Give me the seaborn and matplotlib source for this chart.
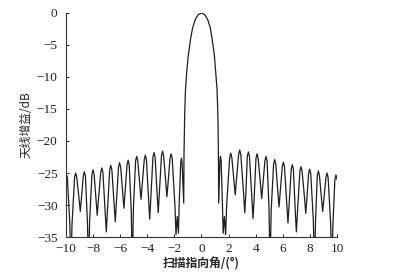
import matplotlib
matplotlib.use("Agg")
import matplotlib.pyplot as plt
import seaborn as sns
import pandas as pd

# 扫描指向角 (°) 与天线增益 (dB)，从原图逐瓣读取；-40 表示零点落到坐标下限以下
angle_deg = [
    -10.00, -9.89, -9.71, -9.63,
    -9.55, -9.36, -9.28, -9.20, -9.02, -8.94,
    -8.86, -8.72, -8.64, -8.56, -8.41, -8.33,
    -8.25, -8.08, -8.00, -7.92, -7.77, -7.69,
    -7.61, -7.43, -7.35, -7.27, -7.10, -7.02,
    -6.94, -6.77, -6.69, -6.61, -6.44, -6.36,
    -6.28, -6.12, -6.04, -5.96, -5.80, -5.72,
    -5.64, -5.49, -5.41, -5.33, -5.18, -5.10,
    -5.02, -4.86, -4.78, -4.70, -4.54, -4.46,
    -4.38, -4.22, -4.14, -4.06, -3.90, -3.82,
    -3.74, -3.58, -3.50, -3.42, -3.27, -3.19,
    -3.11, -2.95, -2.87, -2.79, -2.63, -2.55,
    -2.47, -2.32, -2.24, -2.16, -1.96, -1.88, -1.79, -1.70,
    -1.64, -1.53, -1.48, -1.43, -1.36, -1.31,
    -1.29, -1.24, -1.18, -1.09, -0.97, -0.80, -0.65, -0.45, -0.25,
    0.00,
    0.25, 0.45, 0.65, 0.78, 0.95, 1.05, 1.15, 1.21, 1.25, 1.27,
    1.31, 1.36, 1.40, 1.45, 1.54, 1.60, 1.69, 1.78,
    1.86, 2.08, 2.16, 2.24, 2.41, 2.49,
    2.57, 2.74, 2.82, 2.90, 3.11, 3.19,
    3.27, 3.38, 3.46, 3.54, 3.72, 3.80,
    3.88, 4.02, 4.10, 4.18, 4.36, 4.44,
    4.52, 4.68, 4.76, 4.84, 4.98, 5.06,
    5.14, 5.32, 5.40, 5.48, 5.64, 5.72,
    5.80, 5.96, 6.04, 6.12, 6.30, 6.38,
    6.46, 6.62, 6.70, 6.78, 6.92, 7.00,
    7.08, 7.26, 7.34, 7.42, 7.61, 7.69,
    7.77, 7.90, 7.98, 8.06, 8.25, 8.33,
    8.41, 8.54, 8.62, 8.70, 8.86, 8.94,
    9.02, 9.18, 9.26, 9.34, 9.53, 9.61,
    9.69, 9.84, 9.92, 10.00,
]

gain_db = [
    -25.0, -25.7, -33.0, -40.0,
    -33.0, -25.7, -25.0, -25.7, -29.2, -31.0,
    -29.1, -25.5, -24.8, -25.5, -32.8, -40.0,
    -32.5, -25.2, -24.5, -25.2, -29.5, -31.6,
    -29.4, -24.9, -24.2, -24.9, -31.2, -34.2,
    -31.1, -24.5, -23.8, -24.5, -30.0, -32.6,
    -29.8, -24.1, -23.4, -24.1, -28.4, -30.5,
    -28.2, -23.7, -23.0, -23.7, -31.0, -40.0,
    -30.4, -23.1, -22.4, -23.1, -27.1, -29.1,
    -27.0, -22.9, -22.2, -22.9, -29.2, -32.2,
    -29.1, -22.5, -21.8, -22.5, -28.4, -31.2,
    -28.3, -22.3, -21.6, -22.3, -26.6, -28.7,
    -26.7, -22.7, -22.0, -22.7, -30.0, -34.6, -31.8, -34.4,
    -29.5, -23.3, -22.7, -23.4, -27.0, -29.7,
    -22.2, -16.0, -12.0, -9.2, -6.6, -4.0, -2.3, -1.0, -0.3,
    0.0,
    -0.3, -1.0, -2.3, -4.0, -6.6, -9.2, -12.0, -16.0, -22.2, -29.7,
    -27.0, -23.1, -22.4, -23.1, -29.5, -34.4, -31.8, -34.6,
    -29.9, -22.6, -21.9, -22.6, -26.5, -28.4,
    -26.3, -22.1, -21.4, -22.1, -28.3, -31.2,
    -28.4, -22.4, -21.7, -22.4, -29.0, -32.1,
    -29.1, -22.7, -22.0, -22.7, -26.9, -29.0,
    -27.0, -23.1, -22.4, -23.1, -30.4, -40.0,
    -30.9, -23.6, -22.9, -23.6, -28.1, -30.3,
    -28.2, -24.0, -23.3, -24.0, -30.0, -32.8,
    -30.1, -24.4, -23.7, -24.4, -31.1, -34.2,
    -31.1, -24.7, -24.0, -24.7, -29.1, -31.3,
    -29.2, -25.1, -24.4, -25.1, -32.4, -40.0,
    -32.7, -25.4, -24.7, -25.4, -29.1, -31.0,
    -29.2, -25.7, -25.0, -25.7, -33.0, -40.0,
    -33.3, -26.0, -25.3, -26.0,
]

x_ticks = [-10, -8, -6, -4, -2, 0, 2, 4, 6, 8, 10]
y_ticks = [0, -5, -10, -15, -20, -25, -30, -35]

sns.set_theme(style="ticks")
plt.rcParams["font.family"] = ["Liberation Serif", "DejaVu Serif"]
plt.rcParams["axes.unicode_minus"] = True
cjk = ["Noto Sans CJK SC", "Liberation Serif", "DejaVu Sans"]

df = pd.DataFrame({"angle": angle_deg, "gain": gain_db})

fig = plt.figure(figsize=(3.97, 2.75), dpi=100)
ax = fig.add_axes([0.166, 0.138, 0.683, 0.815])
sns.lineplot(data=df, x="angle", y="gain", ax=ax, estimator=None, sort=False,
             color="#1e1e1e", linewidth=0.9)

ax.set_xlim(-10, 10)
ax.set_ylim(-35, 0)
ax.set_xticks(x_ticks)
ax.set_yticks(y_ticks)
ax.tick_params(direction="in", length=2.5, width=0.7, labelsize=9.5, colors="#222222")
ax.tick_params(axis="y", pad=6)
ax.tick_params(axis="x", pad=4)
for side in ["top", "right"]:
    ax.spines[side].set_visible(False)
for side in ["left", "bottom"]:
    ax.spines[side].set_color("#333333")
    ax.spines[side].set_linewidth(0.8)

ax.set_xlabel("扫描指向角/(°)", family=cjk, fontsize=8.5, fontweight="bold", labelpad=2)
ax.set_ylabel("天线增益/dB", family=cjk, fontsize=8.5, labelpad=3)

fig.savefig("out.png", dpi=100)
plt.close(fig)
